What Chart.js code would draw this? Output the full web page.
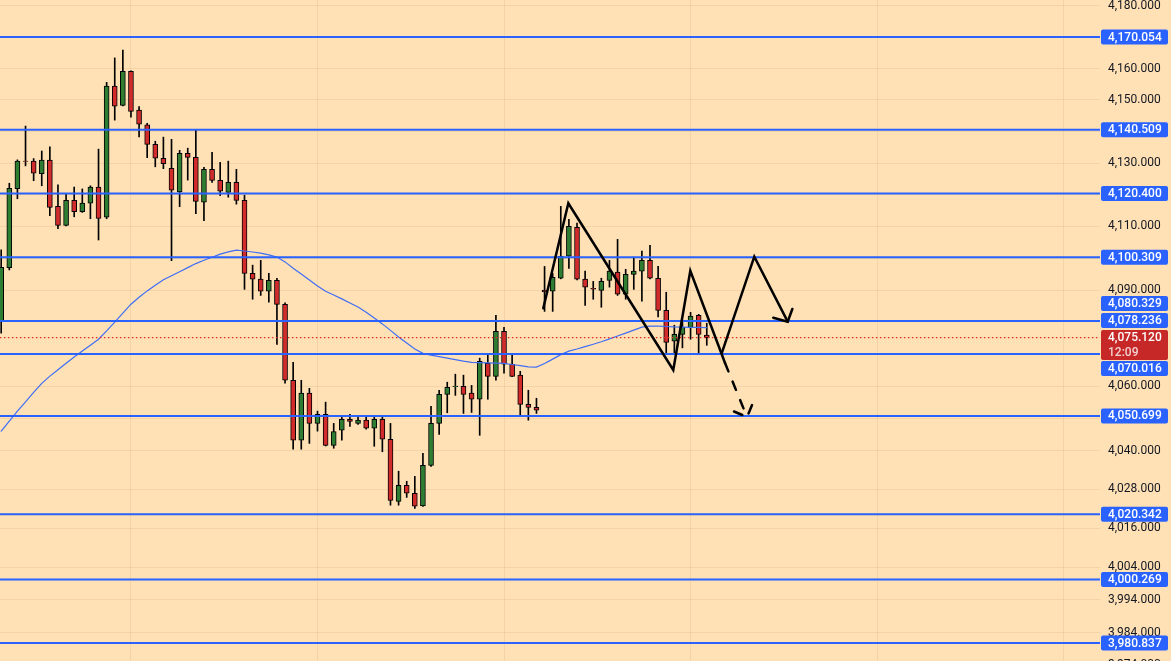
<!DOCTYPE html>
<html>
<head>
<meta charset="utf-8">
<title>XAUUSD levels</title>
<script src="https://cdn.jsdelivr.net/npm/chart.js@4.4.0/dist/chart.umd.min.js"></script>
<style>
  html, body { margin: 0; padding: 0; overflow: hidden; background: #ffe1b5; }
  #wrap { width: 1171px; height: 661px; position: relative; }
</style>
</head>
<body>
<div id="wrap"><canvas id="chart"></canvas></div>
<script>
const opens = [4080.4, 4097.0, 4121.9, 4130.6, 4130.6, 4126.6, 4130.9, 4116.3, 4110.3, 4118.2,
  4114.6, 4117.3, 4122.4, 4112.9, 4154.4, 4148.3, 4159.1, 4146.8, 4142.1, 4135.9,
  4131.5, 4128.3, 4120.9, 4133.1, 4131.8, 4117.6, 4128.0, 4124.5, 4120.7, 4123.9,
  4118.2, 4095.2, 4093.4, 4089.6, 4093.0, 4085.5, 4061.8, 4043.2, 4057.8, 4048.4,
  4051.2, 4041.6, 4046.3, 4049.7, 4048.4, 4049.4, 4046.9, 4049.7, 4043.5, 4024.3,
  4029.2, 4026.8, 4022.9, 4035.4, 4048.4, 4057.4, 4059.8, 4059.9, 4057.8, 4055.9,
  4067.1, 4063.0, 4077.1, 4066.8, 4063.4, 4054.3, 4053.4, 4090.0, 4089.6, 4093.7,
  4100.6, 4109.7, 4093.4, 4090.5, 4089.9, 4093.0, 4095.6, 4088.7, 4094.9, 4095.9,
  4099.3, 4093.7, 4083.6, 4074.0, 4076.1, 4078.3, 4082.1, 4075.9];
const highs = [4102.6, 4123.6, 4131.0, 4141.7, 4131.4, 4133.8, 4135.1, 4123.1, 4120.2, 4122.4,
  4121.8, 4122.8, 4134.4, 4155.6, 4163.4, 4165.9, 4159.3, 4147.9, 4142.6, 4136.9,
  4138.2, 4137.5, 4134.0, 4134.7, 4140.7, 4128.6, 4133.4, 4130.2, 4130.6, 4128.0,
  4119.8, 4097.8, 4099.3, 4095.2, 4093.7, 4086.0, 4067.4, 4061.8, 4059.3, 4052.2,
  4055.0, 4048.4, 4050.9, 4051.2, 4050.6, 4050.6, 4050.9, 4050.3, 4048.4, 4033.6,
  4030.5, 4032.0, 4039.1, 4053.7, 4058.7, 4061.2, 4063.7, 4063.4, 4060.2, 4068.7,
  4070.2, 4082.1, 4078.3, 4069.9, 4064.6, 4058.7, 4056.2, 4097.4, 4095.2, 4116.3,
  4112.2, 4111.0, 4095.9, 4092.7, 4093.7, 4099.3, 4105.9, 4096.5, 4100.3, 4102.2,
  4104.0, 4097.4, 4089.3, 4079.0, 4079.9, 4083.0, 4082.4, 4079.6];
const lows = [4076.5, 4096.3, 4118.7, 4129.1, 4124.4, 4122.8, 4113.4, 4109.3, 4110.1, 4113.0,
  4114.4, 4112.4, 4105.7, 4112.4, 4143.6, 4148.1, 4144.5, 4138.3, 4131.7, 4128.8,
  4128.2, 4099.2, 4116.2, 4124.6, 4114.0, 4111.8, 4123.9, 4119.7, 4119.2, 4117.0,
  4090.2, 4087.1, 4088.3, 4086.2, 4073.0, 4060.9, 4040.4, 4040.4, 4042.2, 4046.0,
  4041.4, 4040.7, 4043.2, 4047.5, 4048.1, 4046.6, 4041.3, 4039.6, 4023.1, 4023.1,
  4025.5, 4022.1, 4022.7, 4035.1, 4045.0, 4051.7, 4057.1, 4051.5, 4051.8, 4044.7,
  4055.9, 4061.8, 4064.0, 4062.9, 4050.9, 4049.4, 4051.5, 4083.3, 4083.3, 4093.5,
  4096.8, 4093.2, 4085.2, 4087.1, 4084.6, 4090.9, 4088.3, 4087.1, 4090.2, 4086.5,
  4093.5, 4081.6, 4070.2, 4070.2, 4071.9, 4074.6, 4070.2, 4072.7];
const closes = [4097.1, 4122.0, 4130.6, 4130.5, 4126.8, 4130.9, 4116.0, 4110.3, 4118.2, 4114.6,
  4117.3, 4122.4, 4112.5, 4154.4, 4148.0, 4159.1, 4146.4, 4142.3, 4135.9, 4131.5,
  4129.8, 4121.4, 4133.1, 4131.8, 4117.9, 4128.0, 4124.5, 4121.1, 4123.9, 4118.2,
  4095.2, 4093.4, 4089.6, 4093.0, 4085.5, 4061.8, 4043.2, 4057.8, 4048.4, 4051.2,
  4041.6, 4045.9, 4049.7, 4049.0, 4049.4, 4046.9, 4049.7, 4043.5, 4024.6, 4029.2,
  4026.8, 4022.8, 4035.4, 4048.4, 4057.4, 4059.6, 4060.0, 4057.4, 4055.9, 4067.7,
  4063.0, 4077.1, 4066.8, 4063.0, 4054.3, 4053.4, 4052.5, 4089.4, 4094.0, 4100.6,
  4110.0, 4093.4, 4090.9, 4090.3, 4092.7, 4095.9, 4088.7, 4094.9, 4095.9, 4099.3,
  4093.7, 4083.6, 4073.6, 4076.1, 4078.3, 4081.8, 4076.1, 4075.12];
const maValues = [4045.98, 4049.14, 4052.19, 4055.11, 4058.03, 4060.83, 4063.10, 4065.09, 4067.09, 4069.05,
  4070.93, 4072.74, 4074.61, 4077.20, 4079.92, 4082.74, 4085.55, 4087.74, 4089.72, 4091.51,
  4093.20, 4094.46, 4095.75, 4097.03, 4098.29, 4099.32, 4100.30, 4101.27, 4101.96, 4102.53,
  4102.25, 4101.93, 4101.55, 4101.05, 4100.33, 4098.82, 4096.84, 4094.99, 4093.14, 4091.26,
  4089.62, 4088.43, 4087.21, 4085.93, 4084.68, 4083.02, 4081.24, 4079.39, 4077.36, 4075.32,
  4073.45, 4071.58, 4070.18, 4069.62, 4069.15, 4068.68, 4068.21, 4067.75, 4067.40, 4067.31,
  4067.25, 4067.15, 4067.06, 4066.72, 4066.37, 4066.00, 4065.90, 4067.03, 4068.40, 4069.80,
  4070.87, 4071.55, 4072.30, 4073.02, 4073.80, 4074.70, 4075.61, 4076.51, 4077.45, 4078.36,
  4078.67, 4078.67, 4078.58, 4078.45, 4078.38, 4078.32, 4078.28, 4078.236];

const levels = [4170.054, 4140.509, 4120.400, 4100.309, 4080.329, 4070.016, 4050.699, 4020.342, 4000.269, 3980.837];
const currentPrice = 4075.120;
const countdown = '12:09';

const yTicks = [4180, 4170, 4160, 4150, 4140, 4130, 4120, 4110, 4100, 4090, 4080, 4070, 4060, 4050, 4040,
  4028, 4016, 4004, 3994, 3984, 3974];
const xGridTicks = [16, 39, 62, 85, 108, 131];

// hand drawn pattern (bar index, price)
const zigzagX = [66.84, 69.93, 82.87, 84.97, 89.25];
const zigzagY = [4084.27, 4117.27, 4065.00, 4096.06, 4067.18];
const pathX = [88.84, 92.86, 96.98];
const pathY = [4070.21, 4100.45, 4080.08];
const arrowX = [95.20, 96.98, 97.55];
const arrowY = [4081.33, 4080.08, 4084.05];
const dashX = [89.25, 91.96];
const dashY = [4067.18, 4050.39];
const dashArrowX = [90.36, 91.96, 92.64];
const dashArrowY = [4052.09, 4050.39, 4054.42];

const X_MIN = -0.148, X_MAX = 135.487;
const Y_MIN = 3975.35, Y_MAX = 4181.92;

const BG = '#ffe1b5';
const BLUE = '#2962ff';
const UP = '#2e7d32';
const DOWN = '#d12b2b';

const fmt = v => v.toLocaleString('en-US', { minimumFractionDigits: 3, maximumFractionDigits: 3 });
const pts = (xs, ys) => xs.map((x, i) => ({ x, y: ys[i] }));

const bodies = opens.map((o, i) => ({ x: i, y: [o, closes[i]] }));
const wicks = opens.map((o, i) => ({ x: i, y: [lows[i], highs[i]] }));
const bodyColors = opens.map((o, i) => closes[i] >= o ? UP : DOWN);

function lineSet(data, color, width, order, dash){
  return { type: 'line', data, borderColor: color, borderWidth: width, pointRadius: 0,
    fill: false, tension: 0, order, borderDash: dash || [], borderCapStyle: 'round' };
}

const datasets = [];
datasets.push(lineSet(pts(zigzagX, zigzagY), '#000', 2.5, 0));
datasets.push(lineSet(pts(pathX, pathY), '#000', 2.5, 0));
datasets.push(lineSet(pts(arrowX, arrowY), '#000', 2.5, 0));
datasets.push(lineSet(pts(dashX, dashY), '#000', 2.5, 0, [9, 11]));
datasets.push(lineSet(pts(dashArrowX, dashArrowY), '#000', 2.5, 0, [9, 9]));
for (const lvl of levels){
  datasets.push(lineSet([{ x: X_MIN - 1, y: lvl }, { x: X_MAX + 1, y: lvl }], BLUE, 2, 1));
}
const priceLine = lineSet([{ x: X_MIN - 1, y: currentPrice }, { x: X_MAX + 1, y: currentPrice }], '#e8251f', 1.3, 2, [1.5, 2.5]);
priceLine.borderCapStyle = 'butt';
datasets.push(priceLine);
datasets.push(lineSet(maValues.map((v, i) => ({ x: i, y: v })), '#3f6ef5', 1.2, 3));
datasets.push({ type: 'bar', data: bodies, backgroundColor: bodyColors, borderColor: '#000', borderWidth: 1,
  borderSkipped: false, barThickness: 5, grouped: false, order: 4 });
datasets.push({ type: 'bar', data: wicks, backgroundColor: '#000', borderWidth: 0,
  barThickness: 1, grouped: false, order: 5 });

const background = {
  id: 'background',
  beforeDraw(chart){
    const ctx = chart.ctx;
    ctx.save();
    ctx.fillStyle = BG;
    ctx.fillRect(0, 0, chart.width, chart.height);
    ctx.restore();
  }
};

const priceLabels = {
  id: 'priceLabels',
  afterDraw(chart){
    const y = chart.scales.y;
    const ctx = chart.ctx;
    const left = chart.chartArea.right + 1;
    const w = 67, h = 15, gap = 2;
    const curY = y.getPixelForValue(currentPrice);
    const fixedTop = curY - 7.5, fixedBottom = curY + 22.5;
    const items = levels.concat([maValues[maValues.length - 1]]).map(v => ({ v, y: y.getPixelForValue(v) }));
    const above = items.filter(it => it.y < curY).sort((a, b) => b.y - a.y);
    const below = items.filter(it => it.y >= curY).sort((a, b) => a.y - b.y);
    let limit = fixedTop - gap;
    for (const it of above){
      const bottom = Math.min(it.y + h / 2, limit);
      it.y = bottom - h / 2;
      limit = bottom - h - gap;
    }
    limit = fixedBottom + 1;
    for (const it of below){
      const top = Math.max(it.y - h / 2, limit);
      it.y = top + h / 2;
      limit = top + h + 1;
    }
    ctx.save();
    ctx.font = '500 12px Roboto, "Noto Sans", sans-serif';
    ctx.textBaseline = 'middle';
    ctx.textAlign = 'left';
    function box(top, height, color){
      ctx.fillStyle = color;
      ctx.beginPath();
      if (ctx.roundRect) ctx.roundRect(left, top, w, height, 2); else ctx.rect(left, top, w, height);
      ctx.fill();
    }
    for (const it of items){
      box(it.y - h / 2, h, BLUE);
      ctx.fillStyle = '#fff';
      ctx.fillText(fmt(it.v), left + 7, it.y + 0.5);
    }
    box(fixedTop, fixedBottom - fixedTop, '#c62828');
    ctx.fillStyle = '#fff';
    ctx.fillText(fmt(currentPrice), left + 7, curY + 0.5);
    ctx.fillStyle = 'rgba(255,255,255,0.78)';
    ctx.fillText(countdown, left + 7, curY + 15);
    ctx.restore();
  }
};

new Chart(document.getElementById('chart'), {
  type: 'bar',
  data: { datasets },
  plugins: [background, priceLabels],
  options: {
    responsive: true,
    maintainAspectRatio: false,
    animation: false,
    events: [],
    layout: { padding: 0 },
    plugins: { legend: { display: false }, tooltip: { enabled: false } },
    scales: {
      x: {
        type: 'linear',
        min: X_MIN,
        max: X_MAX,
        bounds: 'data',
        offset: false,
        grid: { color: 'rgba(150,100,40,0.10)', drawTicks: false, offset: false },
        border: { display: false },
        ticks: { display: false },
        afterBuildTicks: s => { s.ticks = xGridTicks.map(v => ({ value: v })); },
        afterFit: s => { s.height = 0; s.paddingLeft = 0; s.paddingRight = 0; }
      },
      y: {
        type: 'logarithmic',
        position: 'right',
        min: Y_MIN,
        max: Y_MAX,
        bounds: 'data',
        grid: { color: 'rgba(150,100,40,0.10)', drawTicks: false },
        border: { display: false },
        ticks: {
          autoSkip: false,
          padding: 8,
          color: '#131722',
          font: { family: 'Roboto, "Noto Sans", sans-serif', size: 12 },
          callback: v => fmt(v)
        },
        afterBuildTicks: s => { s.ticks = yTicks.map(v => ({ value: v })); },
        afterFit: s => { s.width = 71; s.paddingTop = 0; s.paddingBottom = 0; }
      }
    }
  }
});
</script>
</body>
</html>
